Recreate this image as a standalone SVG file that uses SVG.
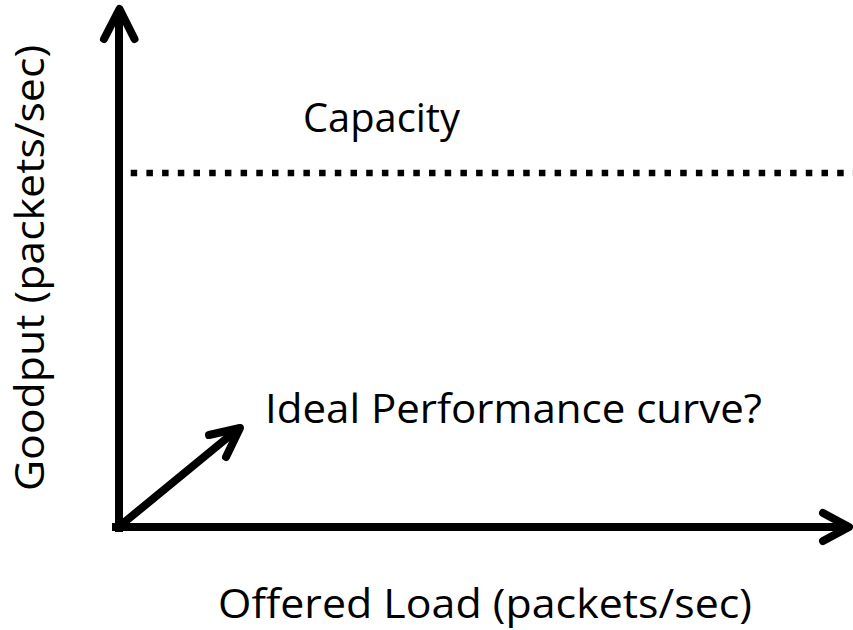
<svg xmlns="http://www.w3.org/2000/svg" width="853" height="630" viewBox="0 0 853 630">
  <style>
    .axis { fill: none; stroke: #000; stroke-width: 8; stroke-linecap: round; stroke-linejoin: round; }
    .axis-line { fill: none; stroke: #000; stroke-width: 8; }
    .dots { fill: none; stroke: #000; stroke-width: 6.5; stroke-dasharray: 6.5 9.2; }
    .label { font-family: "Open Sans", "Noto Sans", "Liberation Sans", sans-serif; font-size: 40px; fill: #000; }
  </style>
  <rect width="853" height="630" fill="#fff"/>

  <g id="connectors">
    <!-- y axis -->
    <line class="axis-line" x1="119" y1="532" x2="119" y2="10"/>
    <polyline class="axis" points="104,39 119.5,9 134.5,39"/>
    <!-- x axis -->
    <line class="axis-line" x1="112" y1="527" x2="848" y2="527"/>
    <polyline class="axis" points="823,513 849,527 823,541"/>
    <!-- capacity level -->
    <line class="dots" x1="115" y1="173" x2="853" y2="173"/>
    <!-- ideal curve pointer -->
    <line class="axis" x1="121" y1="525" x2="238" y2="429"/>
    <polyline class="axis" points="209,435 240,428 226,457"/>
  </g>

  <g id="capacity-label">
    <text class="label" x="303" y="132" textLength="157" lengthAdjust="spacingAndGlyphs">Capacity</text>
  </g>
  <g id="ideal-label">
    <text class="label" x="265" y="423" textLength="497" lengthAdjust="spacingAndGlyphs">Ideal Performance curve?</text>
  </g>
  <g id="x-label">
    <text class="label" x="218" y="618" textLength="534" lengthAdjust="spacingAndGlyphs">Offered Load (packets/sec)</text>
  </g>
  <g id="y-label">
    <text class="label" transform="translate(44,491) rotate(-90)" x="0" y="0" textLength="446" lengthAdjust="spacingAndGlyphs">Goodput (packets/sec)</text>
  </g>
</svg>
